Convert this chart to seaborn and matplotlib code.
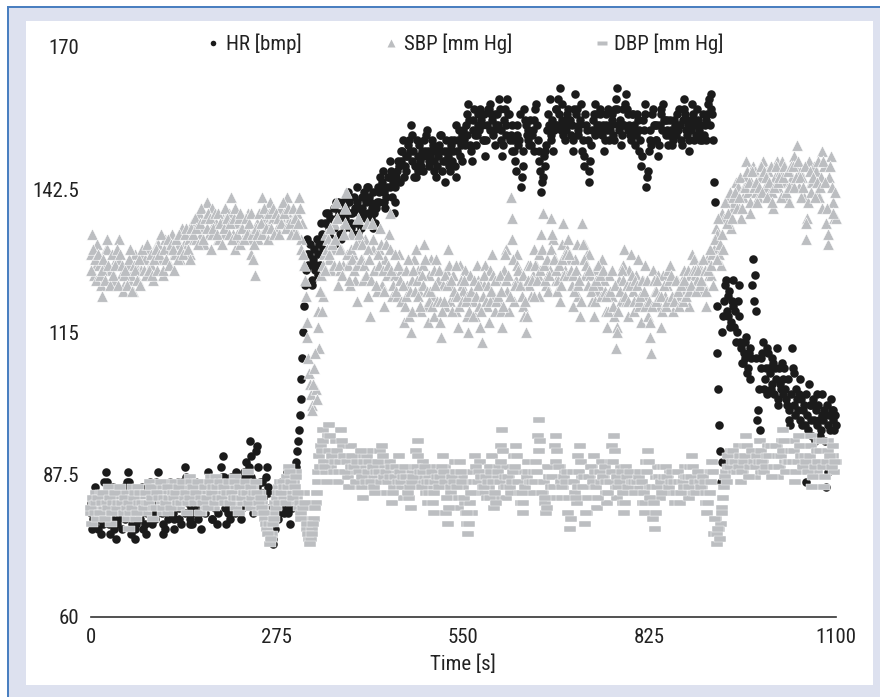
import matplotlib.pyplot as plt
import numpy as np
import seaborn as sns
from matplotlib import font_manager
from matplotlib.lines import Line2D
from matplotlib.path import Path
from matplotlib.patches import Rectangle

sns.set_theme(style="white")

# the original uses a condensed sans; take a narrow face if one is installed
font_name, font_stretch, font_size = 'Liberation Sans', 'normal', 14
prefs = ['Liberation Sans Narrow', 'Roboto Condensed', 'Open Sans Condensed',
         'DejaVu Sans']
found = {}
for f in font_manager.fontManager.ttflist:
    narrow = ('Narrow' in f.name or 'Condensed' in f.name
              or str(f.stretch) in ('condensed', 'semi-condensed'))
    if narrow and f.style == 'normal' and f.weight in (400, 'normal', 'regular'):
        found.setdefault(f.name, f.stretch)
for p in prefs:
    if p in found:
        font_name, font_stretch = p, found[p]
        font_size = 15 if p != 'DejaVu Sans' else 14
        break
plt.rcParams['font.family'] = [font_name, 'DejaVu Sans']
plt.rcParams['font.stretch'] = font_stretch

# readings every 2.5 s (a) and the ones in between (b, offset 1.25 s)
time_a = np.arange(0, 1100.1, 2.5)
time_b = np.arange(1.25, 1100, 2.5)

# heart rate [bmp]
hr_a = [80, 77, 78, 83, 84, 79, 76, 81, 86, 88, 80, 78, 82, 85, 77, 75, 79, 82, 83, 80,
        81, 84, 88, 86, 76, 79, 75, 78, 84, 81, 80, 77, 78, 83, 82, 86, 85, 80, 79, 82,
        88, 85, 80, 76, 77, 80, 83, 86, 84, 79, 81, 84, 79, 82, 86, 83, 89, 85, 82, 78,
        78, 81, 84, 82, 80, 77, 85, 83, 82, 86, 87, 84, 79, 82, 83, 80, 86, 89, 91, 87,
        78, 80, 84, 87, 81, 83, 88, 85, 82, 79, 85, 87, 90, 86, 94, 91, 80, 84, 93, 89,
        86, 84, 83, 80, 89, 85, 78, 76, 74, 77, 82, 80, 84, 86, 80, 83, 88, 84, 78, 81,
        86, 89, 92, 96, 102, 110, 120, 127, 133, 130, 128, 124, 131, 128, 126, 132, 136, 130, 133, 138,
        138, 134, 131, 136, 135, 140, 140, 137, 133, 138, 137, 141, 142, 138, 136, 134, 139, 143, 134, 137,
        141, 138, 137, 143, 143, 140, 139, 135, 136, 140, 142, 145, 144, 140, 139, 143, 145, 148, 141, 138,
        143, 146, 147, 150, 150, 145, 146, 149, 152, 155, 148, 145, 145, 149, 151, 147, 149, 152, 153, 150,
        147, 150, 151, 146, 145, 149, 150, 153, 148, 144, 152, 149, 146, 151, 150, 147, 155, 152, 149, 153,
        154, 151, 157, 159, 151, 148, 156, 153, 153, 157, 158, 155, 152, 149, 155, 158, 159, 156, 154, 151,
        157, 160, 152, 149, 156, 153, 160, 157, 153, 150, 150, 146, 155, 152, 143, 147, 158, 155, 154, 151,
        151, 154, 156, 159, 152, 148, 142, 145, 147, 151, 157, 160, 153, 150, 155, 158, 160, 162, 156, 153,
        152, 155, 158, 156, 155, 150, 161, 158, 153, 156, 150, 147, 157, 154, 144, 148, 154, 157, 159, 155,
        155, 158, 153, 150, 157, 154, 152, 155, 156, 152, 160, 162, 154, 151, 158, 155, 161, 157, 155, 152,
        157, 154, 153, 156, 150, 147, 156, 159, 143, 146, 154, 151, 158, 155, 152, 149, 155, 158, 159, 156,
        154, 151, 156, 153, 152, 155, 157, 154, 155, 151, 160, 157, 153, 150, 156, 159, 152, 155, 158, 154,
        155, 152, 153, 156, 157, 160, 161, 157, 144, 130, 111, 97, 86, 115, 121, 125, 118, 123, 117, 120,
        116, 113, 121, 124, 112, 109, 110, 114, 108, 112, 110, 129, 126, 119, 100, 96, 108, 113, 106, 103,
        111, 107, 105, 109, 108, 112, 102, 105, 109, 106, 104, 101, 100, 97, 112, 107, 99, 102, 103, 106,
        97, 101, 86, 99, 105, 101, 95, 98, 100, 103, 98, 96, 103, 100, 85, 97, 99, 102, 100, 96,
        97]
hr_b = [82, 79, 85, 81, 77, 83, 80, 78, 84, 86, 82, 76, 79, 81, 83, 78, 84, 80, 77, 85,
        79, 86, 83, 81, 78, 82, 77, 80, 83, 79, 85, 82, 76, 80, 84, 81, 78, 83, 86, 80,
        84, 82, 78, 81, 85, 79, 82, 84, 80, 77, 83, 86, 81, 78, 84, 80, 87, 82, 79, 81,
        80, 83, 86, 79, 82, 84, 81, 80, 85, 88, 82, 79, 84, 81, 78, 85, 83, 87, 84, 81,
        82, 85, 79, 83, 86, 80, 84, 82, 86, 81, 88, 83, 85, 89, 87, 83, 86, 92, 85, 82,
        83, 86, 81, 87, 84, 81, 79, 75, 77, 80, 79, 83, 86, 82, 85, 81, 80, 86, 83, 85,
        88, 90, 94, 99, 106, 115, 124, 130, 128, 132, 125, 129, 127, 133, 130, 128, 134, 131, 136, 134,
        135, 137, 133, 139, 132, 137, 138, 134, 140, 135, 139, 136, 140, 135, 138, 141, 136, 140, 138, 135,
        139, 142, 140, 138, 141, 137, 142, 138, 139, 143, 140, 143, 146, 142, 141, 145, 143, 146, 144, 140,
        145, 148, 144, 148, 152, 147, 149, 151, 150, 153, 150, 147, 152, 146, 148, 150, 146, 150, 154, 148,
        149, 152, 148, 150, 147, 151, 153, 146, 150, 148, 150, 147, 152, 148, 152, 145, 150, 154, 151, 148,
        152, 155, 153, 156, 150, 154, 158, 151, 155, 154, 156, 152, 157, 152, 158, 154, 157, 153, 157, 155,
        155, 158, 154, 151, 158, 155, 157, 152, 155, 152, 148, 153, 151, 157, 145, 150, 156, 153, 152, 156,
        153, 150, 158, 155, 150, 146, 144, 149, 150, 154, 155, 152, 156, 154, 158, 155, 157, 154, 159, 155,
        154, 157, 156, 153, 152, 158, 157, 154, 155, 159, 152, 149, 155, 152, 146, 151, 156, 153, 157, 154,
        157, 154, 155, 152, 155, 158, 154, 157, 153, 158, 158, 155, 156, 153, 155, 159, 158, 154, 153, 157,
        155, 151, 157, 154, 152, 149, 154, 157, 145, 150, 152, 157, 155, 152, 155, 151, 157, 154, 156, 153,
        156, 153, 154, 151, 156, 153, 155, 158, 152, 156, 158, 154, 155, 152, 154, 157, 156, 153, 156, 152,
        153, 157, 155, 152, 159, 155, 158, 152, 140, 120, 104, 92, 90, 118, 124, 119, 122, 116, 121, 125,
        119, 115, 118, 113, 109, 111, 113, 107, 111, 106, 124, 121, 110, 98, 104, 110, 111, 104, 108, 112,
        108, 104, 110, 103, 106, 101, 108, 104, 103, 108, 102, 106, 98, 103, 108, 101, 104, 100, 98, 102,
        100, 97, 103, 96, 101, 98, 102, 94, 97, 101, 95, 99, 98, 94, 101, 88, 96, 100, 98, 99]

# systolic blood pressure [mm Hg]
sbp_a = [130, 134, 126, 128, 132, 128, 124, 122, 128, 131, 131, 127, 127, 124, 125, 129, 129, 133, 126, 123,
         124, 127, 128, 125, 126, 123, 130, 128, 125, 127, 127, 130, 129, 126, 131, 128, 128, 125, 130, 132,
         132, 129, 129, 126, 133, 131, 131, 128, 134, 130, 130, 133, 132, 129, 135, 132, 131, 134, 133, 130,
         136, 133, 133, 137, 138, 134, 135, 132, 137, 140, 134, 131, 139, 136, 136, 133, 133, 136, 137, 134,
         135, 138, 138, 141, 134, 131, 136, 133, 132, 135, 137, 134, 135, 138, 133, 130, 129, 126, 136, 133,
         138, 141, 134, 137, 136, 133, 140, 137, 137, 134, 135, 138, 139, 136, 136, 140, 141, 137, 137, 134,
         135, 138, 138, 141, 133, 136, 128, 122, 114, 107, 103, 101, 108, 104, 119, 112, 126, 122, 130, 134,
         133, 129, 127, 131, 136, 140, 124, 127, 131, 128, 139, 142, 128, 124, 134, 130, 125, 121, 137, 133,
         129, 125, 133, 136, 122, 118, 136, 131, 127, 123, 131, 135, 124, 120, 129, 126, 134, 138, 122, 126,
         126, 122, 130, 127, 121, 117, 127, 124, 118, 115, 125, 129, 131, 127, 123, 119, 128, 132, 120, 117,
         126, 129, 122, 118, 129, 125, 117, 114, 124, 120, 127, 131, 121, 124, 126, 122, 119, 116, 128, 124,
         123, 127, 118, 115, 126, 122, 121, 118, 128, 125, 116, 113, 124, 128, 120, 117, 127, 130, 122, 119,
         125, 121, 119, 116, 127, 131, 123, 119, 141, 137, 121, 125, 130, 127, 124, 120, 118, 115, 128, 124,
         122, 126, 131, 128, 126, 122, 134, 138, 128, 124, 123, 127, 137, 133, 129, 125, 125, 121, 132, 136,
         127, 131, 133, 129, 124, 120, 129, 132, 122, 118, 136, 132, 126, 130, 130, 126, 121, 118, 127, 123,
         124, 128, 129, 125, 119, 116, 126, 122, 122, 118, 112, 116, 125, 121, 128, 131, 121, 118, 127, 130,
         123, 119, 126, 129, 120, 117, 125, 128, 122, 118, 114, 111, 127, 123, 123, 126, 120, 116, 126, 122,
         124, 127, 128, 125, 119, 122, 125, 121, 122, 125, 127, 123, 124, 120, 126, 130, 129, 126, 125, 128,
         127, 123, 124, 120, 129, 126, 126, 130, 131, 135, 134, 130, 128, 138, 137, 140, 141, 136, 135, 139,
         140, 144, 143, 139, 137, 141, 145, 148, 142, 138, 144, 147, 146, 142, 141, 145, 145, 148, 143, 146,
         146, 142, 142, 139, 145, 148, 143, 146, 148, 144, 144, 141, 140, 144, 145, 149, 147, 151, 143, 146,
         145, 141, 133, 137, 148, 144, 144, 147, 146, 142, 141, 145, 150, 147, 136, 132, 145, 149, 140, 137,
         137]
sbp_b = [127, 131, 129, 125, 130, 126, 127, 129, 125, 133, 128, 124, 130, 126, 128, 131, 124, 130, 128, 126,
         127, 124, 129, 131, 123, 128, 127, 125, 129, 124, 131, 127, 126, 132, 127, 130, 126, 129, 131, 127,
         130, 134, 127, 131, 129, 133, 128, 132, 131, 127, 133, 129, 134, 131, 130, 134, 135, 131, 129, 135,
         134, 137, 135, 132, 136, 139, 133, 137, 135, 138, 137, 134, 135, 138, 134, 138, 136, 132, 135, 139,
         137, 134, 136, 133, 137, 139, 134, 137, 138, 135, 133, 137, 134, 136, 138, 134, 132, 135, 134, 138,
         136, 134, 139, 135, 133, 138, 135, 139, 134, 138, 137, 134, 136, 140, 138, 135, 139, 136, 134, 139,
         137, 134, 136, 139, 131, 130, 125, 117, 110, 105, 100, 105, 111, 102, 116, 123, 119, 128, 127, 131,
         130, 135, 132, 128, 133, 137, 128, 131, 126, 134, 136, 130, 125, 131, 129, 127, 132, 128, 134, 129,
         132, 128, 126, 131, 129, 125, 133, 127, 124, 130, 128, 132, 127, 123, 132, 128, 131, 127, 124, 130,
         123, 128, 125, 121, 124, 120, 122, 129, 123, 119, 127, 123, 125, 122, 120, 126, 124, 129, 123, 121,
         123, 120, 127, 124, 121, 127, 121, 119, 121, 126, 124, 128, 125, 119, 123, 128, 122, 120, 125, 121,
         125, 121, 122, 119, 123, 118, 125, 122, 124, 120, 119, 122, 126, 121, 124, 121, 123, 126, 125, 121,
         122, 126, 123, 120, 130, 125, 126, 122, 133, 129, 124, 128, 127, 124, 122, 126, 121, 118, 125, 128,
         125, 122, 128, 125, 130, 127, 131, 128, 125, 129, 126, 131, 134, 129, 127, 123, 128, 124, 129, 126,
         130, 126, 130, 127, 126, 123, 127, 124, 125, 121, 132, 129, 128, 124, 127, 123, 124, 121, 125, 128,
         126, 122, 127, 123, 122, 119, 123, 127, 120, 124, 115, 119, 123, 127, 125, 122, 124, 121, 124, 126,
         121, 125, 124, 121, 122, 125, 123, 120, 125, 121, 117, 120, 125, 121, 125, 122, 122, 119, 124, 120,
         121, 125, 126, 122, 121, 125, 123, 120, 124, 121, 125, 122, 127, 123, 124, 127, 127, 123, 127, 124,
         125, 129, 127, 123, 127, 131, 128, 124, 133, 129, 137, 132, 134, 131, 140, 136, 138, 142, 137, 141,
         142, 139, 141, 145, 139, 143, 143, 146, 144, 140, 146, 143, 144, 140, 143, 147, 142, 146, 145, 141,
         144, 147, 140, 143, 147, 144, 145, 141, 145, 147, 142, 146, 143, 147, 147, 143, 145, 148, 145, 141,
         143, 147, 136, 140, 146, 142, 145, 141, 144, 148, 143, 139, 148, 144, 139, 134, 147, 143, 138, 142]

# diastolic blood pressure [mm Hg]
dbp_a = [80, 78, 82, 84, 79, 81, 84, 82, 81, 79, 83, 85, 78, 80, 82, 84, 80, 83, 84, 81,
         82, 84, 79, 77, 83, 85, 81, 79, 85, 82, 80, 83, 82, 80, 84, 86, 81, 79, 83, 85,
         85, 83, 82, 80, 84, 86, 80, 82, 83, 85, 86, 84, 81, 83, 84, 86, 82, 80, 85, 87,
         83, 85, 86, 84, 82, 80, 84, 86, 81, 83, 85, 87, 83, 81, 87, 85, 82, 84, 84, 86,
         86, 84, 83, 85, 85, 87, 81, 83, 84, 82, 82, 84, 86, 88, 83, 81, 85, 83, 82, 80,
         84, 82, 81, 79, 77, 76, 74, 76, 80, 82, 83, 85, 86, 84, 83, 86, 87, 89, 84, 82,
         86, 88, 83, 81, 80, 82, 84, 79, 77, 75, 75, 77, 79, 82, 88, 91, 93, 96, 90, 88,
         95, 97, 89, 86, 92, 94, 86, 88, 96, 93, 90, 88, 87, 85, 93, 91, 88, 86, 91, 89,
         85, 83, 89, 91, 92, 88, 87, 89, 84, 86, 90, 92, 93, 89, 86, 84, 88, 90, 82, 85,
         87, 89, 91, 88, 85, 83, 89, 86, 83, 81, 88, 86, 92, 94, 86, 88, 90, 87, 84, 82,
         87, 85, 82, 80, 89, 87, 85, 88, 91, 89, 80, 78, 86, 84, 88, 90, 83, 81, 90, 87,
         85, 82, 78, 76, 82, 80, 88, 91, 84, 86, 90, 88, 86, 84, 83, 85, 89, 91, 81, 83,
         87, 89, 93, 96, 85, 83, 89, 87, 84, 86, 91, 93, 88, 86, 82, 80, 86, 84, 90, 88,
         84, 86, 88, 90, 95, 98, 86, 84, 82, 80, 89, 87, 85, 83, 93, 95, 87, 89, 83, 85,
         88, 86, 80, 77, 86, 88, 84, 82, 91, 93, 87, 85, 78, 80, 85, 87, 89, 91, 83, 81,
         86, 88, 90, 87, 84, 82, 88, 90, 93, 95, 85, 83, 87, 89, 82, 80, 89, 87, 86, 84,
         84, 86, 88, 85, 86, 88, 82, 80, 90, 92, 85, 83, 79, 77, 87, 89, 83, 85, 89, 87,
         85, 87, 88, 86, 84, 82, 86, 88, 82, 84, 87, 89, 85, 83, 89, 91, 84, 86, 86, 88,
         87, 85, 84, 82, 80, 86, 88, 90, 76, 79, 74, 77, 78, 81, 85, 88, 89, 91, 92, 90,
         88, 90, 91, 93, 86, 88, 93, 95, 89, 87, 90, 92, 87, 89, 92, 94, 88, 90, 91, 89,
         93, 91, 89, 87, 91, 93, 87, 89, 94, 96, 90, 88, 88, 90, 92, 94, 86, 88, 95, 93,
         91, 89, 88, 90, 93, 95, 85, 87, 90, 88, 94, 92, 87, 85, 92, 94, 89, 91, 91, 88,
         90]
dbp_b = [81, 83, 80, 82, 83, 80, 82, 84, 79, 82, 81, 83, 80, 82, 84, 81, 82, 85, 82, 80,
         83, 81, 82, 80, 81, 83, 84, 80, 82, 84, 82, 81, 84, 82, 82, 85, 83, 81, 81, 84,
         83, 86, 81, 83, 82, 85, 83, 81, 84, 83, 84, 82, 85, 82, 86, 83, 84, 82, 83, 86,
         85, 82, 84, 86, 80, 83, 82, 85, 83, 81, 86, 84, 85, 82, 85, 83, 86, 83, 85, 82,
         84, 86, 82, 84, 83, 86, 83, 80, 85, 83, 84, 86, 84, 82, 85, 83, 84, 86, 84, 82,
         83, 81, 80, 78, 76, 78, 75, 78, 79, 81, 84, 82, 84, 86, 85, 82, 85, 88, 86, 83,
         85, 87, 84, 82, 79, 81, 82, 78, 76, 74, 76, 78, 81, 84, 86, 89, 92, 94, 89, 86,
         92, 95, 91, 88, 90, 92, 88, 90, 94, 91, 88, 90, 85, 89, 91, 89, 86, 90, 88, 92,
         87, 90, 86, 88, 90, 86, 89, 85, 88, 90, 88, 86, 91, 87, 88, 86, 87, 89, 84, 87,
         89, 86, 88, 86, 87, 89, 87, 84, 85, 86, 87, 89, 89, 91, 88, 85, 88, 89, 86, 84,
         86, 88, 84, 86, 87, 85, 87, 89, 88, 86, 83, 81, 85, 87, 86, 88, 85, 83, 88, 86,
         83, 80, 80, 78, 84, 86, 86, 89, 86, 88, 87, 85, 85, 87, 86, 83, 88, 86, 84, 82,
         88, 86, 90, 92, 87, 85, 87, 85, 86, 88, 89, 91, 86, 84, 84, 82, 85, 87, 88, 86,
         86, 88, 86, 88, 92, 94, 84, 86, 83, 81, 87, 85, 87, 85, 90, 92, 89, 86, 85, 87,
         86, 88, 83, 79, 88, 86, 83, 85, 88, 90, 85, 87, 80, 83, 87, 89, 86, 88, 85, 83,
         88, 86, 87, 89, 86, 84, 86, 88, 90, 92, 87, 85, 86, 88, 84, 82, 87, 85, 88, 86,
         86, 84, 86, 87, 88, 86, 84, 82, 88, 90, 83, 85, 82, 80, 85, 87, 86, 84, 87, 89,
         87, 85, 86, 88, 86, 84, 88, 86, 84, 86, 85, 87, 87, 85, 87, 89, 86, 84, 88, 86,
         85, 87, 86, 84, 82, 84, 86, 88, 79, 76, 77, 75, 80, 83, 87, 86, 91, 89, 90, 92,
         90, 88, 89, 91, 88, 90, 91, 93, 87, 89, 92, 90, 89, 91, 90, 92, 90, 88, 89, 91,
         91, 93, 87, 89, 93, 91, 89, 91, 92, 94, 88, 90, 90, 92, 90, 92, 88, 90, 93, 91,
         89, 91, 90, 88, 91, 93, 87, 89, 92, 90, 92, 94, 89, 87, 90, 92, 91, 89, 93, 90]

assert len(hr_a) == len(sbp_a) == len(dbp_a) == len(time_a)
assert len(hr_b) == len(sbp_b) == len(dbp_b) == len(time_b)

time_s = np.concatenate([time_a, time_b])
hr = np.concatenate([hr_a, hr_b])
sbp = np.concatenate([sbp_a, sbp_b])
dbp = np.concatenate([dbp_a, dbp_b])

y_ticks = [60, 87.5, 115, 142.5, 170]
y_tick_labels = ['60', '87.5', '115', '142.5', '170']
x_ticks = [0, 275, 550, 825, 1100]

hr_color = '#1b1b1b'
sbp_color = '#bcbec1'
dbp_color = '#bcbec1'
text_color = '#222222'

W, H = 880, 697
fig = plt.figure(figsize=(W / 100, H / 100), dpi=100)
fig.patch.set_facecolor('white')

# frame: lavender box, blue edge on top/left, white panel inside
fig.patches.append(Rectangle((7 / W, 0), 1, (H - 6) / H, transform=fig.transFigure,
                             facecolor='#dde1ef', edgecolor='none', zorder=-4))
fig.patches.append(Rectangle((7 / W, 0), 2 / W, (H - 6) / H, transform=fig.transFigure,
                             facecolor='#4a7fc0', edgecolor='none', zorder=-3))
fig.patches.append(Rectangle((7 / W, (H - 8) / H), 1, 2 / H, transform=fig.transFigure,
                             facecolor='#4a7fc0', edgecolor='none', zorder=-3))
fig.patches.append(Rectangle((26 / W, (H - 685) / H), (873 - 26) / W, (685 - 21) / H,
                             transform=fig.transFigure, facecolor='white',
                             edgecolor='none', zorder=-2))

ax = fig.add_axes([90.5 / W, (H - 617) / H, (836 - 90.5) / W, 570 / H])
ax.set_facecolor('none')

# flat rectangle marker for DBP
dash = Path([(-1, -0.45), (1, -0.45), (1, 0.45), (-1, 0.45), (-1, -0.45)],
            [Path.MOVETO, Path.LINETO, Path.LINETO, Path.LINETO, Path.CLOSEPOLY])

sns.scatterplot(x=time_s, y=hr, ax=ax, color=hr_color, marker='o', s=38,
                linewidth=0, legend=False)
sns.scatterplot(x=time_s, y=sbp, ax=ax, color=sbp_color, marker='^', s=68,
                edgecolor='white', linewidth=0.4, legend=False)
sns.scatterplot(x=time_s, y=dbp, ax=ax, color=dbp_color, marker=dash, s=85,
                edgecolor='white', linewidth=0.3, legend=False)
for c in ax.collections:
    c.set_clip_on(False)

ax.set_xlim(0, 1100)
ax.set_ylim(60, 170)
ax.set_xticks(x_ticks)
ax.set_yticks(y_ticks)
ax.set_yticklabels(y_tick_labels)
ax.tick_params(length=0, labelsize=font_size, colors=text_color)
ax.tick_params(axis='y', pad=8)
ax.tick_params(axis='x', pad=8)
for side in ['top', 'right', 'left']:
    ax.spines[side].set_visible(False)
ax.spines['bottom'].set_color('#333333')
ax.spines['bottom'].set_linewidth(1.2)
ax.set_xlabel('Time [s]', fontsize=font_size, color=text_color, labelpad=5)
ax.set_ylabel('')

handles = [
    Line2D([], [], ls='none', marker='o', ms=4, mfc=hr_color, mec='none'),
    Line2D([], [], ls='none', marker='^', ms=6, mfc=sbp_color, mec='none'),
    Line2D([], [], ls='none', marker=dash, ms=7, mfc=dbp_color, mec='none'),
]
ax.legend(handles, ['HR [bmp]', 'SBP [mm Hg]', 'DBP [mm Hg]'],
          loc='center', bbox_to_anchor=(0.503, 1.005), ncol=3, frameon=False,
          fontsize=font_size, handlelength=0.6, handletextpad=0.3,
          columnspacing=4.0, labelcolor=text_color)

plt.savefig('out.png', dpi=100)
